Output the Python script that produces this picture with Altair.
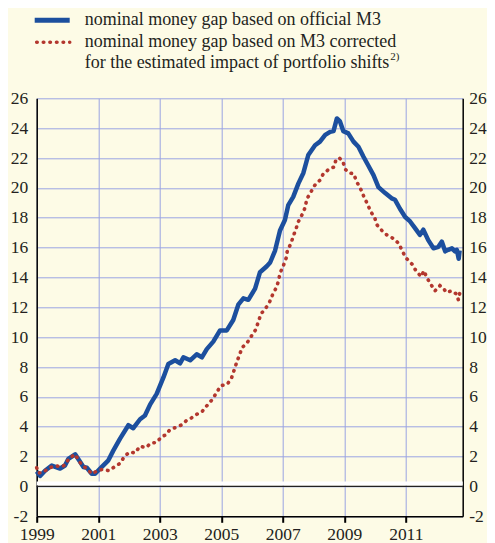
import altair as alt
import pandas as pd

# ---------------- data ----------------
blue_year = [1999.00, 1999.11, 1999.27, 1999.49, 1999.76, 1999.92, 2000.03, 2000.25, 2000.41,
             2000.52, 2000.63, 2000.79, 2000.90, 2001.11, 2001.33, 2001.49, 2001.71, 2001.98,
             2002.14, 2002.36, 2002.52, 2002.69, 2002.90, 2003.12, 2003.28, 2003.50, 2003.66,
             2003.77, 2003.99, 2004.20, 2004.37, 2004.53, 2004.74, 2004.96, 2005.18, 2005.39,
             2005.56, 2005.72, 2005.88, 2006.10, 2006.26, 2006.48, 2006.59, 2006.75, 2006.91,
             2007.07, 2007.18, 2007.34, 2007.51, 2007.67, 2007.83, 2008.05, 2008.21, 2008.38,
             2008.54, 2008.65, 2008.76, 2008.86, 2008.97, 2009.13, 2009.30, 2009.46, 2009.62,
             2009.78, 2009.95, 2010.11, 2010.33, 2010.54, 2010.65, 2010.81, 2010.98, 2011.14,
             2011.30, 2011.46, 2011.57, 2011.73, 2011.90, 2012.06, 2012.17, 2012.28, 2012.38,
             2012.50, 2012.60, 2012.66, 2012.72, 2012.75]
blue_value = [1.00, 0.70, 1.05, 1.40, 1.20, 1.40, 1.85, 2.15, 1.65,
              1.30, 1.25, 0.85, 0.85, 1.30, 1.75, 2.40, 3.20, 4.10,
              3.90, 4.50, 4.75, 5.50, 6.20, 7.30, 8.20, 8.45, 8.25,
              8.65, 8.45, 8.85, 8.65, 9.20, 9.70, 10.45, 10.45, 11.15,
              12.20, 12.60, 12.50, 13.25, 14.35, 14.75, 15.00, 15.80, 17.15,
              17.85, 18.85, 19.40, 20.30, 21.00, 22.20, 22.85, 23.10, 23.55,
              23.75, 23.80, 24.65, 24.45, 23.80, 23.65, 23.10, 22.75, 22.10,
              21.50, 20.85, 20.05, 19.65, 19.30, 19.20, 18.60, 18.05, 17.75,
              17.30, 16.85, 17.20, 16.50, 15.95, 16.05, 16.40, 15.75, 15.85,
              15.95, 15.75, 15.85, 15.25, 15.80]

red_year = [1999.00, 1999.05, 1999.21, 1999.41, 1999.63, 1999.81, 1999.92, 2000.06, 2000.25,
            2000.39, 2000.52, 2000.63, 2000.79, 2000.97, 2001.15, 2001.35, 2001.52, 2001.71,
            2001.85, 2002.01, 2002.20, 2002.36, 2002.54, 2002.72, 2002.90, 2003.07, 2003.20,
            2003.33, 2003.52, 2003.69, 2003.86, 2004.04, 2004.22, 2004.39, 2004.55, 2004.72,
            2004.85, 2004.99, 2005.20, 2005.34, 2005.42, 2005.50, 2005.59, 2005.68, 2005.85,
            2005.99, 2006.12, 2006.21, 2006.29, 2006.45, 2006.56, 2006.67, 2006.78, 2006.86,
            2006.91, 2007.02, 2007.11, 2007.15, 2007.26, 2007.34, 2007.43, 2007.51, 2007.64,
            2007.73, 2007.78, 2007.91, 2008.03, 2008.20, 2008.32, 2008.50, 2008.67, 2008.73,
            2008.84, 2008.95, 2009.03, 2009.16, 2009.30, 2009.42, 2009.55, 2009.65, 2009.76,
            2009.86, 2009.98, 2010.07, 2010.22, 2010.41, 2010.61, 2010.78, 2010.89, 2011.01,
            2011.20, 2011.33, 2011.50, 2011.59, 2011.68, 2011.81, 2011.95, 2012.11, 2012.22,
            2012.31, 2012.50, 2012.64, 2012.71, 2012.76]
red_value = [1.25, 0.90, 0.95, 1.25, 1.38, 1.30, 1.45, 1.90, 2.15,
             1.65, 1.35, 1.20, 0.85, 1.05, 1.15, 1.05, 1.30, 1.55,
             2.00, 2.30, 2.25, 2.70, 2.60, 2.90, 2.95, 3.35, 3.45,
             3.80, 3.95, 4.10, 4.40, 4.60, 4.85, 5.05, 5.45, 5.85,
             6.30, 6.75, 6.85, 7.30, 7.80, 8.30, 8.80, 9.30, 9.65,
             10.10, 10.50, 11.05, 11.55, 11.95, 12.30, 12.85, 13.28, 13.75,
             14.28, 14.80, 15.30, 15.80, 16.25, 16.75, 17.25, 17.75, 18.25,
             18.70, 19.25, 19.70, 20.15, 20.50, 20.95, 21.25, 21.40, 21.90,
             22.00, 21.80, 21.25, 21.00, 20.95, 20.35, 19.85, 19.35, 18.90,
             18.40, 18.05, 17.50, 17.15, 16.80, 16.60, 16.25, 15.75, 15.30,
             14.90, 14.45, 14.05, 14.45, 14.00, 13.55, 13.10, 13.45, 13.30,
             13.00, 13.10, 12.90, 12.50, 13.00]

year_ticks = [1999, 2001, 2003, 2005, 2007, 2009, 2011]
value_ticks = list(range(-2, 27, 2))
legend_labels = [
    "nominal money gap based on official M3",
    "nominal money gap based on M3 corrected",
    "for the estimated impact of portfolio shifts",
]
footnote_mark = "2)"

# ---------------- styling ----------------
FONT = "Liberation Serif, Times New Roman, Tinos, DejaVu Serif, serif"
BG = "#fdfbe6"
BLUE = "#1c4f9e"
RED = "#b3372e"
GRID = "#9aa4e2"
TXT = "#231f20"
HYPHEN = "'' + datum.value"

blue_df = pd.DataFrame({"year": blue_year, "value": blue_value})
red_df = pd.DataFrame({"year": red_year, "value": red_value})

xscale = alt.Scale(domain=[1999, 2012.85], nice=False, zero=False)
yscale = alt.Scale(domain=[-2, 26], nice=False, zero=False)

x_axis = alt.Axis(values=year_ticks, format="d", title=None, grid=True,
                  gridColor=GRID, gridWidth=1, domainColor="black", domainWidth=1.5,
                  tickColor="black", tickSize=6, tickWidth=2, labelFontSize=17.5,
                  labelFont=FONT, labelColor=TXT, labelPadding=3, labelFlush=False,
                  labelOverlap=False)
y_left = alt.Axis(values=value_ticks, title=None, orient="left", grid=True,
                  gridColor=GRID, gridWidth=1, domainColor="black", domainWidth=1.5,
                  ticks=False, labelFontSize=17.5, labelFont=FONT, labelColor=TXT,
                  labelPadding=9, labelFlush=False, labelOverlap=False, labelExpr=HYPHEN)
y_right = alt.Axis(values=value_ticks, title=None, orient="right", grid=False,
                   domainColor="black", domainWidth=1.5, ticks=False,
                   labelFontSize=17.5, labelFont=FONT, labelColor=TXT,
                   labelPadding=6, labelFlush=False, labelOverlap=False, labelExpr=HYPHEN)

blue_line = alt.Chart(blue_df).mark_line(color=BLUE, strokeWidth=4.5, strokeJoin="round").encode(
    x=alt.X("year:Q", scale=xscale, axis=x_axis),
    y=alt.Y("value:Q", scale=yscale, axis=y_left),
)
red_line = alt.Chart(red_df).mark_line(color=RED, strokeWidth=3.6, strokeCap="round",
                                       strokeDash=[0.5, 6.1]).encode(
    x=alt.X("year:Q", scale=xscale, axis=x_axis),
    y=alt.Y("value:Q", scale=yscale, axis=y_right),
)

zero_band = alt.Chart().mark_rule(color="white", strokeWidth=4, yOffset=-3).encode(
    y=alt.Y(datum=0, scale=yscale, axis=None))
zero_line = alt.Chart().mark_rule(color="#222222", strokeWidth=1.3).encode(
    y=alt.Y(datum=0, scale=yscale, axis=None))

leg_blue = alt.Chart().mark_rule(color=BLUE, strokeWidth=5).encode(
    x=alt.value(-2), x2=alt.value(33), y=alt.value(-78))
leg_red = alt.Chart().mark_rule(color=RED, strokeWidth=3.6, strokeCap="round",
                                strokeDash=[0.5, 6.1]).encode(
    x=alt.value(0), x2=alt.value(33), y=alt.value(-56))

texts = []
for i, lab in enumerate(legend_labels):
    texts.append(alt.Chart().mark_text(align="left", baseline="middle", font=FONT,
                                       fontSize=18, color=TXT).encode(
        x=alt.value(48), y=alt.value([-78, -56.5, -35][i]), text=alt.value(lab)))
sup = alt.Chart().mark_text(align="left", baseline="middle", font=FONT,
                            fontSize=11, color=TXT).encode(
    x=alt.value(353.5), y=alt.value(-41), text=alt.value(footnote_mark))

chart = alt.layer(
    blue_line, red_line, zero_band, zero_line, leg_blue, leg_red, *texts, sup
).resolve_axis(y="independent").resolve_scale(y="shared").properties(
    width=426, height=418,
    background=BG,
    padding={"left": 28.7, "top": 90.3, "right": 24.3, "bottom": 36},
    autosize=alt.AutoSizeParams(type="none"),
).configure_view(stroke=None)

chart.save("out.html", embed_options={"renderer": "svg", "actions": False})
